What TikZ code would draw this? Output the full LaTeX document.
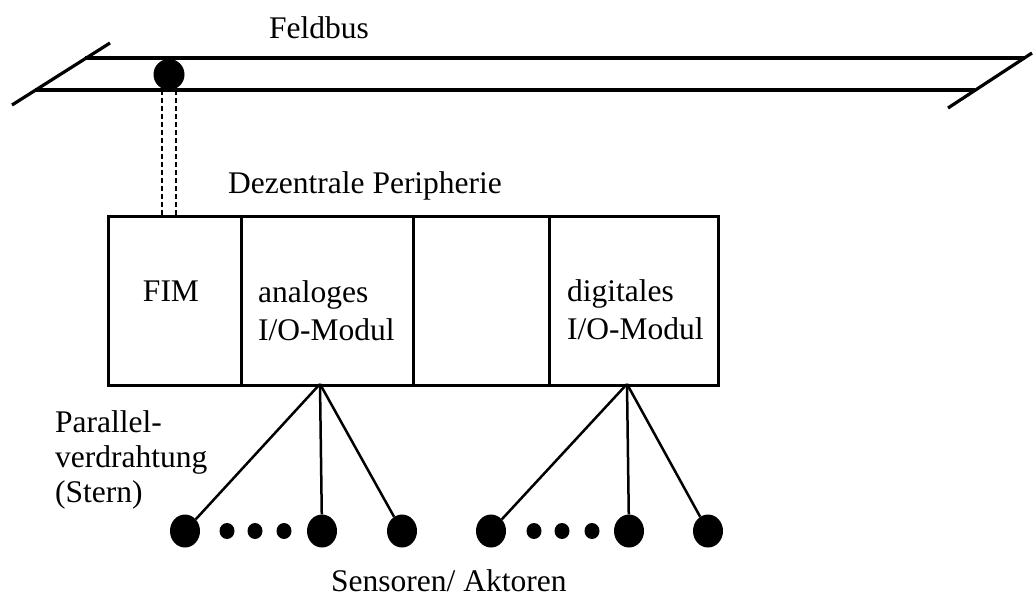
\documentclass[tikz,border=0pt]{standalone}
\usepackage{fontspec}
\setmainfont{Liberation Serif}
\usetikzlibrary{shapes.geometric}
\begin{document}
\begin{tikzpicture}[x=1pt,y=-1pt,
  lbl/.style={font=\fontsize{31.5}{38}\selectfont, inner sep=0pt, anchor=base west, align=left},
  wire/.style={line width=3.2pt},
  module/.style={draw, line width=3.2pt, inner sep=0pt, anchor=north west, minimum height=169pt},
  bigdot/.style={ellipse, fill=black, inner sep=0pt, minimum width=30pt, minimum height=33pt},
  smalldot/.style={ellipse, fill=black, inner sep=0pt, minimum width=15pt, minimum height=16pt},
  fan/.style={line width=2.5pt},
  tapline/.style={line width=2.2pt, dash pattern=on 5pt off 3pt}]
\useasboundingbox (0,0) rectangle (1034,598);

% field bus: two rails with slanted end strokes
\coordinate (busLa) at (12,105);
\coordinate (busLb) at (110,43);
\coordinate (busRa) at (948,108);
\coordinate (busRb) at (1032,53);
\coordinate (railTs) at (85,58);
\coordinate (railTe) at (1025,58);
\coordinate (railBs) at (35,90);
\coordinate (railBe) at (975,90);
\draw[wire] (railTs) -- (railTe);
\draw[wire] (railBs) -- (railBe);
\draw[wire] (busLa) -- (busLb);
\draw[wire] (busRa) -- (busRb);
\node[lbl] (feldbus) at (269,38) {Feldbus};

% bus coupling point and its double dashed drop
\node[circle, fill=black, inner sep=0pt, minimum size=31pt] (tap) at (169,74.5) {};
\coordinate (dropAa) at (162,90);
\coordinate (dropAb) at (162,215);
\coordinate (dropBa) at (176,90);
\coordinate (dropBb) at (176,215);
\draw[tapline] (dropAa) -- (dropAb);
\draw[tapline] (dropBa) -- (dropBb);

% decentralised periphery: module rack
\node[lbl] (dp) at (228,193) {Dezentrale Peripherie};
\node[module, minimum width=133pt] (fim) at (107,215) {};
\node[module, minimum width=172pt] (ana) at (240,215) {};
\node[module, minimum width=136pt] (free) at (412,215) {};
\node[module, minimum width=169pt] (dig) at (548,215) {};
% multi-line labels are anchored at the baseline of their last line
\node[lbl, anchor=base] (fimtxt) at (171,301) {FIM};
\node[lbl] (anatxt) at (258,340) {analoges\\I/O-Modul};
\node[lbl] (digtxt) at (567,339) {digitales\\I/O-Modul};

% star wiring
\node[lbl, font=\fontsize{31.5}{35}\selectfont] (par) at (55,502) {Parallel-\\verdrahtung\\(Stern)};
\coordinate (apexA) at (320,384);
\coordinate (apexB) at (627,384);

\node[bigdot] (a1) at (185,531) {};
\node[smalldot] (a2) at (227,531) {};
\node[smalldot] (a3) at (255,531) {};
\node[smalldot] (a4) at (284,531) {};
\node[bigdot] (a5) at (322,531) {};
\node[bigdot] (a6) at (402,531) {};

\node[bigdot] (b1) at (491,531) {};
\node[smalldot] (b2) at (534,531) {};
\node[smalldot] (b3) at (562,531) {};
\node[smalldot] (b4) at (592,531) {};
\node[bigdot] (b5) at (629,531) {};
\node[bigdot] (b6) at (708,531) {};

\draw[fan] (apexA) -- (a1);
\draw[fan] (apexA) -- (a5);
\draw[fan] (apexA) -- (a6);
\draw[fan] (apexB) -- (b1);
\draw[fan] (apexB) -- (b5);
\draw[fan] (apexB) -- (b6);

\node[lbl] (sa) at (331,591) {Sensoren/ Aktoren};
\end{tikzpicture}
\end{document}
